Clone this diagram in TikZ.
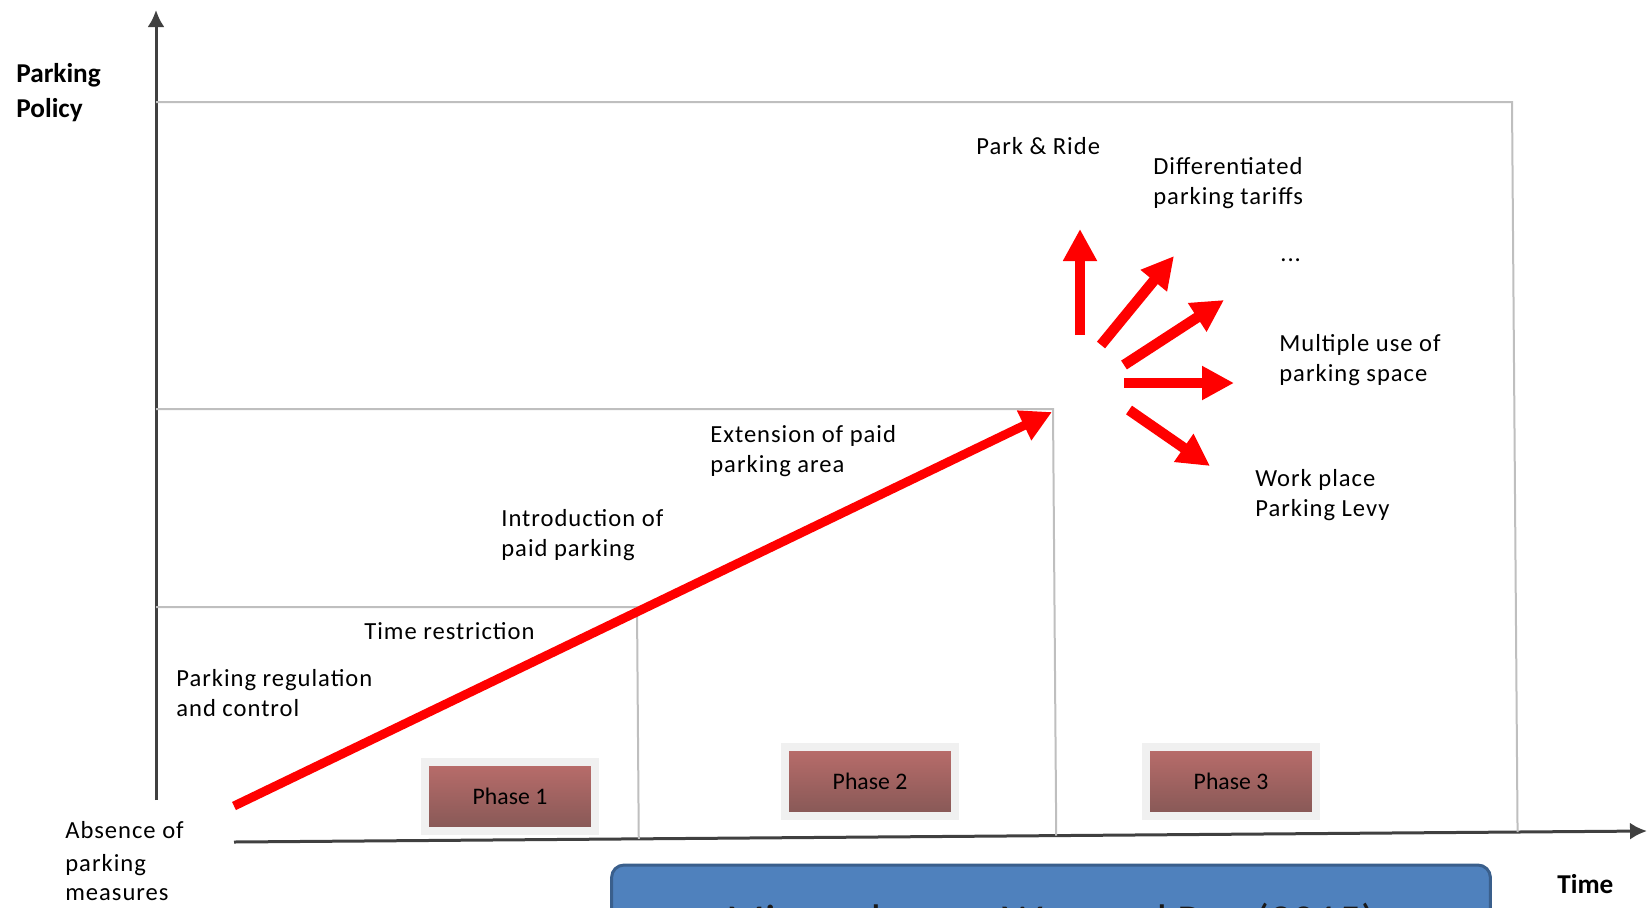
\documentclass[tikz,border=0pt]{standalone}
\usepackage{fontspec}
\setmainfont{Carlito}
\newfontfamily\spaced[LetterSpace=4]{Carlito}
\usetikzlibrary{arrows.meta}
\usetikzlibrary{calc}
\usetikzlibrary{shadows}
\tikzset{>=latex}
\definecolor{gridgray}{HTML}{BFBFBF}
\definecolor{axisgray}{HTML}{404040}
\definecolor{arrowred}{HTML}{FF0000}
\definecolor{phasetop}{HTML}{BA6D6B}
\definecolor{phasebot}{HTML}{865856}
\definecolor{glow}{HTML}{F0F0F0}
\definecolor{srcfill}{HTML}{4F81BD}
\definecolor{srcline}{HTML}{3A5F8C}
\newcommand\lbl{\spaced\fontsize{14pt}{17.4pt}\selectfont}
\tikzstyle{note}=[font=\lbl,align=left,anchor=west,inner sep=0pt]
\tikzstyle{axis title}=[font=\fontsize{15.5pt}{20pt}\selectfont\bfseries,align=left,anchor=west,inner sep=0pt]
\tikzstyle{axis}=[axisgray,line width=0.06cm,-{Latex[length=0.34cm,width=0.34cm]}]
\tikzstyle{grid line}=[gridgray,line width=0.04cm]
\tikzstyle{growth}=[arrowred,line width=0.18cm,-{Triangle[length=0.62cm,width=0.62cm]}]
\tikzstyle{burst}=[arrowred,line width=0.21cm,-{Triangle[length=0.64cm,width=0.64cm]}]
\tikzstyle{phase}=[draw=glow,line width=0.16cm,top color=phasetop,bottom color=phasebot,
  minimum width=3.4cm,minimum height=1.38cm,font=\fontsize{13.5pt}{16pt}\selectfont,
  drop shadow={shadow xshift=0.5mm,shadow yshift=-0.9mm,fill=phasebot!75,opacity=0.7}]
\tikzstyle{source}=[draw=srcline,line width=0.06cm,fill=srcfill,rounded corners=0.25cm,
  minimum width=17.58cm,minimum height=2.36cm,text=black!90,font=\fontsize{26pt}{30pt}\selectfont]

\begin{document}
\begin{tikzpicture}[x=0.02cm,y=-0.02cm]
  \useasboundingbox (0,0) rectangle (1650,907);
  \clip (0,0) rectangle (1650,907);
  % axes
  \coordinate (O) at (156,800);
  \coordinate (Ytop) at (156,10);
  \coordinate (Xs) at (234,842);
  \coordinate (Xe) at (1647,831);
  \draw[axis] (O) -- (Ytop);
  \draw[axis] (Xs) -- (Xe);
  % phase borders
  \coordinate (top) at (156,102);
  \coordinate (topR) at (1512,102);
  \coordinate (mid) at (156,409);
  \coordinate (midR) at (1053,409);
  \coordinate (low) at (156,607);
  \coordinate (lowR) at (637,607);
  \draw[grid line] (top) -- (topR) -- ($(Xs)!(topR)!(Xe)$);
  \draw[grid line] (mid) -- (midR) -- ($(Xs)!(midR)!(Xe)$);
  \draw[grid line] (low) -- (lowR) -- ($(Xs)!(lowR)!(Xe)$);
  % growth of policy
  \coordinate (start) at (234,806);
  \coordinate (peak) at (1052,412);
  \draw[growth] (start) -- (peak);
  \coordinate (s1) at (1080,335); \coordinate (e1) at (1080,229);
  \coordinate (s2) at (1101,345); \coordinate (e2) at (1174,256);
  \coordinate (s3) at (1124,365); \coordinate (e3) at (1224,300);
  \coordinate (s4) at (1124,383); \coordinate (e4) at (1234,383);
  \coordinate (s5) at (1129,410); \coordinate (e5) at (1210,466);
  \draw[burst] (s1) -- (e1);
  \draw[burst] (s2) -- (e2);
  \draw[burst] (s3) -- (e3);
  \draw[burst] (s4) -- (e4);
  \draw[burst] (s5) -- (e5);
  % texts
  \node[axis title] (ytitle) at (16,93) {Parking\\Policy};
  \node[axis title] (xtitle) at (1557,884) {Time};
  \node[note] (absence) at (65,861) {Absence of\\[1pt]parking\\[-1pt]measures};
  \node[note] (regulation) at (176,693) {Parking regulation\\and control};
  \node[note] (restriction) at (364,631) {Time restriction};
  \node[note] (intro) at (501,535) {Introduction of\\paid parking};
  \node[note] (extension) at (710,451) {Extension of paid\\parking area};
  \node[note] (parkride) at (976,146) {Park \& Ride};
  \node[note] (tariffs) at (1153,183) {Differentiated\\parking tariffs};
  \node[note,anchor=base west] (more) at (1280,261) {...};
  \node[note] (multiuse) at (1279,360) {Multiple use of\\parking space};
  \node[note] (levy) at (1255,495) {Work place\\Parking Levy};
  % phases
  \node[phase] (phase1) at (510,796) {Phase 1};
  \node[phase] (phase2) at (870,781) {Phase 2};
  \node[phase] (phase3) at (1231,781) {Phase 3};
  \node[source] (src) at (1051,924) {Mingardo, van Wee and Rye (2015)};
\end{tikzpicture}
\end{document}
